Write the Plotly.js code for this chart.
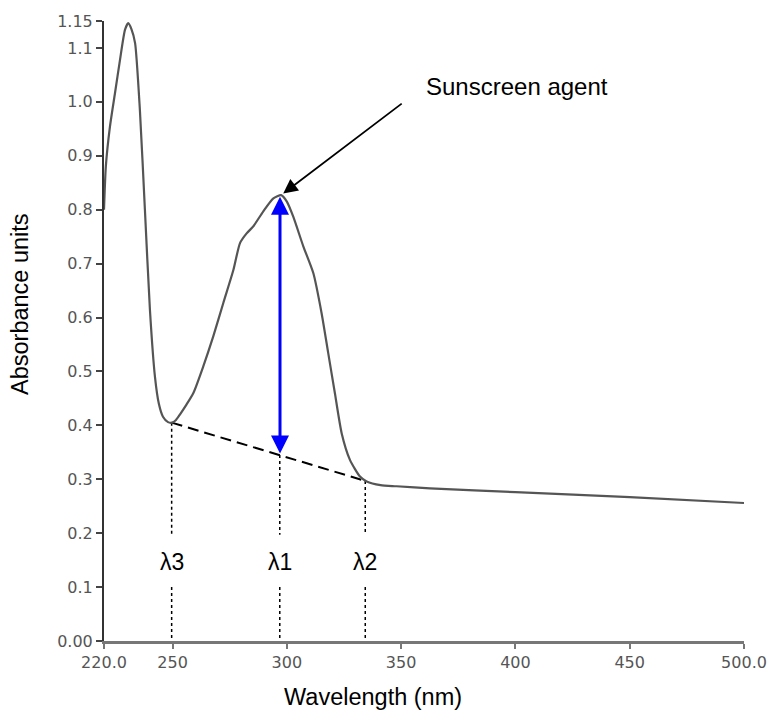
<!DOCTYPE html>
<html>
<head>
<meta charset="utf-8">
<script src="https://cdn.plot.ly/plotly-3.0.1.min.js"></script>
<style>html,body{margin:0;padding:0;background:#fff;}#chart{width:770px;height:717px;}</style>
</head>
<body>
<div id="chart"></div>
<script>
// Spectrum
const wavelength = [220, 220.8, 222.6, 224.8, 227, 229.2, 230.6, 232, 233.6, 235.7, 237.9, 240.1, 242.3, 244, 245.8, 248, 249.7, 251.5, 253.2, 256, 259.1, 263.4, 267.8, 272.2, 276.6, 279.5, 282.4, 285.3, 289.7, 294.1, 297.5, 300, 302.8, 307.2, 311.6, 315.2, 318.1, 321.0, 324.0, 327.6, 332.0, 334.9, 341, 348, 362.6, 400, 450, 500];
const absorbance = [0.80, 0.88, 0.954, 1.016, 1.078, 1.134, 1.146, 1.135, 1.109, 0.985, 0.80, 0.614, 0.49, 0.44, 0.416, 0.406, 0.405, 0.41, 0.42, 0.438, 0.46, 0.509, 0.565, 0.627, 0.688, 0.738, 0.756, 0.769, 0.797, 0.821, 0.827, 0.815, 0.787, 0.732, 0.682, 0.608, 0.534, 0.46, 0.385, 0.336, 0.305, 0.296, 0.289, 0.287, 0.283, 0.276, 0.267, 0.256];

// Marked wavelengths
const lambdaLabels = ['λ3', 'λ1', 'λ2'];
const lambdaX = [249.6, 296.9, 334.3];
const lambdaTop = [0.405, 0.345, 0.297];
const labelY = 0.147;
const dotGapTop = 0.197;
const dotGapBottom = 0.1;

// Baseline between λ3 and λ2
const baseX = [249.6, 334.3];
const baseY = [0.405, 0.297];

// Sunscreen agent peak
const peakX = 297;
const peakY = 0.824;
const peakBaseY = 0.345;
const agentLabel = 'Sunscreen agent';

// Ticks
const xTickVals = [220, 250, 300, 350, 400, 450, 500];
const xTickText = ['220.0', '250', '300', '350', '400', '450', '500.0'];
const yTickVals = [0, 0.1, 0.2, 0.3, 0.4, 0.5, 0.6, 0.7, 0.8, 0.9, 1.0, 1.1, 1.15];
const yTickText = ['0.00', '0.1', '0.2', '0.3', '0.4', '0.5', '0.6', '0.7', '0.8', '0.9', '1.0', '1.1', '1.15'];

const dotX = [], dotY = [];
lambdaX.forEach((lx, i) => {
  dotX.push(lx, lx, null, lx, lx, null);
  dotY.push(lambdaTop[i], dotGapTop, null, dotGapBottom, 0, null);
});

const traces = [
  {x: dotX, y: dotY, mode: 'lines', line: {color: '#000', width: 1.5, dash: 'dot'}, hoverinfo: 'skip', showlegend: false},
  {x: baseX, y: baseY, mode: 'lines', line: {color: '#000', width: 2, dash: '11px,6px'}, hoverinfo: 'skip', showlegend: false},
  {x: wavelength, y: absorbance, mode: 'lines', line: {color: '#555', width: 2.2, shape: 'spline', smoothing: 0.6}, showlegend: false}
];

const font = 'Liberation Sans, Arial, Helvetica, sans-serif';
const annotations = [];
lambdaLabels.forEach((t, i) => {
  annotations.push({x: lambdaX[i], y: labelY, xref: 'x', yref: 'y', text: t, showarrow: false,
    font: {family: font, size: 23, color: '#000'}, xanchor: 'center', yanchor: 'middle'});
});
annotations.push({x: peakX, y: peakY, xref: 'x', yref: 'y', ax: peakX, ay: peakBaseY, axref: 'x', ayref: 'y',
  text: '', showarrow: true, arrowside: 'end+start', arrowhead: 2, arrowsize: 1.2, arrowwidth: 3, arrowcolor: '#0000ff', standoff: 0, startstandoff: 0});
annotations.push({x: 298.4, y: 0.83, xref: 'x', yref: 'y', ax: 120, ay: -91, axref: 'pixel', ayref: 'pixel',
  text: '', showarrow: true, arrowhead: 2, arrowsize: 1.6, arrowwidth: 1.8, arrowcolor: '#000', standoff: 0});
annotations.push({xref: 'x', yref: 'y', text: agentLabel, showarrow: false, xanchor: 'left', yanchor: 'middle',
  x: (424 - 104) / 640 * 280 + 220, y: (641 - 87) / 539,
  font: {family: font, size: 24, color: '#000'}});
annotations.push({xref: 'paper', yref: 'paper', x: (373 - 104) / 640, y: (641 - 697) / 620, text: 'Wavelength (nm)', showarrow: false,
  xanchor: 'center', yanchor: 'middle', font: {family: font, size: 23.5, color: '#000'}});
annotations.push({xref: 'paper', yref: 'paper', x: (20 - 104) / 640, y: (641 - 304) / 620, text: 'Absorbance units', showarrow: false, textangle: -90,
  xanchor: 'center', yanchor: 'middle', font: {family: font, size: 23.5, color: '#000'}});

const layout = {
  width: 770, height: 717,
  margin: {l: 104, r: 26, t: 21, b: 76},
  paper_bgcolor: '#fff', plot_bgcolor: '#fff',
  showlegend: false,
  xaxis: {range: [220, 500], tickvals: xTickVals, ticktext: xTickText, showgrid: false, zeroline: false,
    showline: true, linecolor: '#777', linewidth: 3, ticks: 'outside', ticklen: 5, tickwidth: 2, tickcolor: '#777',
    tickfont: {family: 'DejaVu Sans, sans-serif', size: 16, color: '#555'}},
  yaxis: {range: [0, 1.15], tickvals: yTickVals, ticktext: yTickText, showgrid: false, zeroline: false,
    showline: true, linecolor: '#333', linewidth: 2, ticks: 'outside', ticklen: 6, tickwidth: 2, tickcolor: '#444',
    tickfont: {family: 'DejaVu Sans, sans-serif', size: 16, color: '#555'}},
  annotations: annotations
};

Plotly.newPlot('chart', traces, layout, {displayModeBar: false, staticPlot: true});
</script>
</body>
</html>
